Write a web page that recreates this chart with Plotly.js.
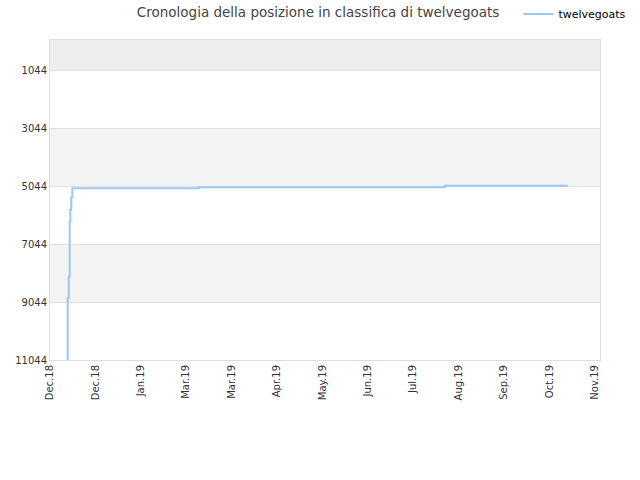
<!DOCTYPE html>
<html>
<head>
<meta charset="utf-8">
<script src="https://cdn.plot.ly/plotly-3.0.1.min.js"></script>
<style>html,body{margin:0;padding:0;background:#fff;}#chart{width:640px;height:480px;}</style>
</head>
<body>
<div id="chart"></div>
<script>
// Data
const dates = [
  "2018-12-11 12:00", "2018-12-12 17:00", "2018-12-13 09:00", "2018-12-14 00:30",
  "2018-12-14 10:00", "2018-12-15 02:00", "2018-12-15 18:00", "2019-03-09 08:00",
  "2019-08-19 02:00", "2019-11-08 05:00"
];
const ranks = [12500, 8916, 8172, 6275, 5847, 5423, 5113, 5078, 5034, 5034];
const seriesName = "twelvegoats";

const yTicks = [1044, 3044, 5044, 7044, 9044, 11044];
const xTickVals = [
  "2018-12-01", "2018-12-31", "2019-01-30", "2019-03-01", "2019-03-31", "2019-04-30",
  "2019-05-30", "2019-06-29", "2019-07-29", "2019-08-28", "2019-09-27", "2019-10-27", "2019-11-26"
];
const xTickText = [
  "Dec.18", "Dec.18", "Jan.19", "Mar.19", "Mar.19", "Apr.19",
  "May.19", "Jun.19", "Jul.19", "Aug.19", "Sep.19", "Oct.19", "Nov.19"
];
const bands = [[0, 1044, "#eeeeee"], [3044, 5044, "#f3f3f3"], [7044, 9044, "#f3f3f3"]];

const shapes = bands.map(b => ({
  type: "rect", xref: "paper", yref: "y", x0: 0, x1: 1, y0: b[0], y1: b[1],
  fillcolor: b[2], line: {width: 0}, layer: "below"
}));

const trace = {
  x: dates, y: ranks, type: "scatter", mode: "lines", name: seriesName,
  line: {color: "#99c7f2", width: 2, shape: "hv"}
};

const layout = {
  width: 640, height: 480,
  margin: {l: 50, r: 40, t: 40, b: 120},
  paper_bgcolor: "#ffffff", plot_bgcolor: "#ffffff",
  font: {family: "DejaVu Sans, sans-serif", size: 10, color: "#333333"},
  title: {text: "Cronologia della posizione in classifica di twelvegoats",
          font: {family: "DejaVu Sans, sans-serif", size: 13.5, color: "#444444"},
          x: 0.497, xanchor: "center", y: 0.975, yanchor: "middle"},
  showlegend: true,
  legend: {xref: "container", yref: "container", x: 0.81, xanchor: "left", y: 0.971, yanchor: "middle",
           orientation: "h",
           font: {family: "DejaVu Sans, sans-serif", size: 11, color: "#000000"},
           bgcolor: "rgba(0,0,0,0)"},
  xaxis: {
    type: "date", range: ["2018-12-01", "2019-11-29 12:00"],
    tickmode: "array", tickvals: xTickVals, ticktext: xTickText, tickangle: -90,
    showgrid: false, zeroline: false, showline: true, linecolor: "#dddddd", linewidth: 1, mirror: true,
    ticks: "", tickfont: {size: 10, color: "#333333"}
  },
  yaxis: {
    range: [11044, 0], tickmode: "array", tickvals: yTicks, ticktext: yTicks.map(String),
    showgrid: true, gridcolor: "#e0e0e0", gridwidth: 1, zeroline: false,
    showline: true, linecolor: "#dddddd", linewidth: 1, mirror: true,
    ticks: "", tickfont: {size: 10, color: "#333333"}
  },
  shapes: shapes
};

Plotly.newPlot("chart", [trace], layout, {displayModeBar: false, staticPlot: true});
</script>
</body>
</html>
